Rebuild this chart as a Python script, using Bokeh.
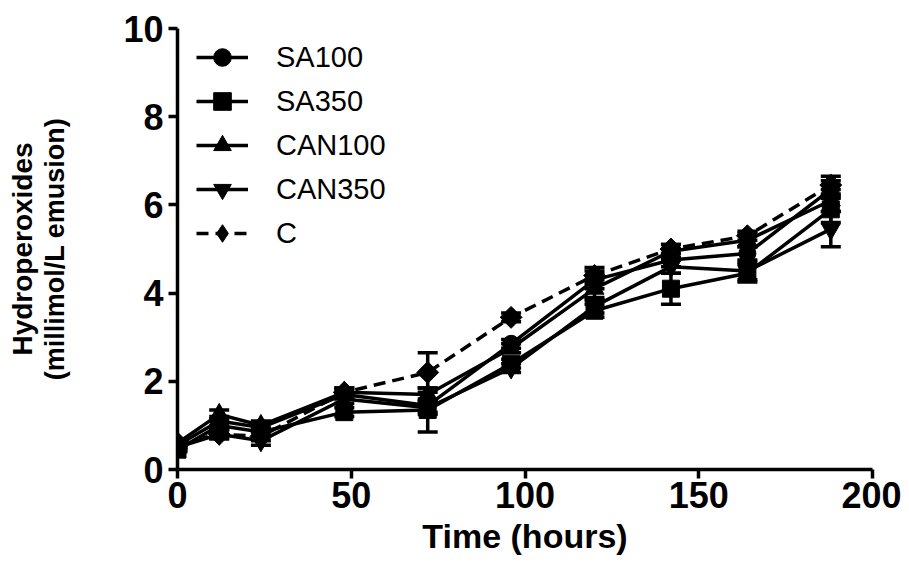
from bokeh.plotting import figure
from bokeh.models import (Range1d, FixedTicker, Legend, LegendItem, Whisker, TeeHead,
                          ColumnDataSource, Title)
from bokeh.embed import file_html
from bokeh.resources import INLINE

# ---- data ----
hours = [0, 12, 24, 48, 72, 96, 120, 142, 164, 188]
series_names = ["SA100", "SA350", "CAN100", "CAN350", "C"]
sa100 = [0.55, 1.10, 0.95, 1.70, 1.45, 2.85, 4.30, 4.75, 4.90, 6.35]
sa350 = [0.45, 1.00, 0.85, 1.30, 1.35, 2.40, 3.60, 4.10, 4.45, 5.90]
can100 = [0.60, 1.25, 1.00, 1.75, 1.70, 2.75, 4.10, 4.95, 5.20, 6.10]
can350 = [0.50, 0.80, 0.65, 1.60, 1.40, 2.30, 3.70, 4.60, 4.50, 5.45]
ctrl = [0.60, 0.80, 0.75, 1.75, 2.20, 3.45, 4.40, 5.00, 5.30, 6.45]
sa100_err = [0.05, 0.10, 0.10, 0.10, 0.15, 0.10, 0.20, 0.15, 0.15, 0.20]
sa350_err = [0.05, 0.10, 0.10, 0.10, 0.50, 0.10, 0.15, 0.35, 0.20, 0.30]
can100_err = [0.05, 0.10, 0.10, 0.10, 0.15, 0.10, 0.20, 0.15, 0.15, 0.25]
can350_err = [0.05, 0.10, 0.10, 0.10, 0.15, 0.10, 0.15, 0.15, 0.20, 0.40]
ctrl_err = [0.05, 0.10, 0.10, 0.10, 0.45, 0.10, 0.18, 0.10, 0.10, 0.20]
x_ticks = [0, 50, 100, 150, 200]
y_ticks = [0, 2, 4, 6, 8, 10]

values = [sa100, sa350, can100, can350, ctrl]
errors = [sa100_err, sa350_err, can100_err, can350_err, ctrl_err]
markers = ["circle", "square", "triangle", "inverted_triangle", "square"]
legend_markers = ["circle", "square", "triangle", "inverted_triangle", "diamond"]
msizes = [17, 17, 19, 19, 15.5]
angles = [0, 0, 0, 0, 0.785398]
dashes = ["solid", "solid", "solid", "solid", "12 7"]

FONT = "Liberation Sans"

p = figure(width=901, height=561, output_backend="svg", toolbar_location=None,
           x_range=Range1d(0, 200), y_range=Range1d(0, 10),
           min_border_left=177, min_border_right=29, min_border_top=28,
           min_border_bottom=92)
p.xgrid.visible = False
p.ygrid.visible = False
p.outline_line_color = None
p.background_fill_color = "white"
p.border_fill_color = "white"

for ax in (p.xaxis[0], p.yaxis[0]):
    ax.axis_line_width = 3.5
    ax.axis_line_color = "black"
    ax.major_tick_line_width = 3.5
    ax.major_tick_line_color = "black"
    ax.major_tick_out = 9
    ax.major_tick_in = 0
    ax.minor_tick_line_color = None
    ax.major_label_text_font = FONT
    ax.major_label_text_font_style = "bold"
    ax.major_label_text_font_size = "36px"
    ax.major_label_text_color = "black"
    ax.axis_label_text_font = FONT
    ax.axis_label_text_font_style = "bold"
    ax.axis_label_text_color = "black"

p.xaxis[0].ticker = FixedTicker(ticks=x_ticks)
p.yaxis[0].ticker = FixedTicker(ticks=y_ticks)
p.xaxis[0].major_label_standoff = 3
p.yaxis[0].major_label_standoff = 5
p.xaxis[0].axis_label = "Time (hours)"
p.xaxis[0].axis_label_text_font_size = "34px"
p.xaxis[0].axis_label_standoff = 6
p.yaxis[0].axis_label = "(millimol/L emusion)"
p.yaxis[0].axis_label_text_font_size = "27px"
p.yaxis[0].axis_label_standoff = 50

p.add_layout(Title(text="Hydroperoxides", align="center", text_font=FONT,
                   text_font_style="bold", text_font_size="28px",
                   text_color="black", standoff=0), "left")

items = []
for name, vals, errs, mk, lmk, ms, ang, dash in zip(series_names, values, errors, markers,
                                                    legend_markers, msizes, angles, dashes):
    lower = [v - e for v, e in zip(vals, errs)]
    upper = [v + e for v, e in zip(vals, errs)]
    src = ColumnDataSource(dict(x=hours, y=vals, lower=lower, upper=upper))
    w = Whisker(source=src, base="x", lower="lower", upper="upper",
                line_width=3.5, line_color="black",
                upper_head=TeeHead(size=20, line_width=3.5, line_color="black"),
                lower_head=TeeHead(size=20, line_width=3.5, line_color="black"))
    p.add_layout(w)
    ln = p.line("x", "y", source=src, line_width=3.5, line_color="black", line_dash=dash)
    if lmk != mk:
        # legend marker drawn underneath (fully covered by the rotated square),
        # because the legend does not rotate markers
        sc_leg = p.scatter("x", "y", source=src, marker=lmk, size=ms,
                           fill_color="black", line_color="black")
    sc = p.scatter("x", "y", source=src, marker=mk, size=ms, angle=ang,
                   fill_color="black", line_color="black")
    items.append(LegendItem(label=name, renderers=[ln, sc_leg if lmk != mk else sc]))

legend = Legend(items=items, location=(19, 214), glyph_width=52, glyph_height=44,
                spacing=0, padding=0, margin=0, label_standoff=28,
                label_text_font=FONT, label_text_font_size="29px",
                label_text_color="black", border_line_color=None,
                background_fill_alpha=0)
p.add_layout(legend, "center")

open("out.html", "w").write(file_html(p, INLINE))
